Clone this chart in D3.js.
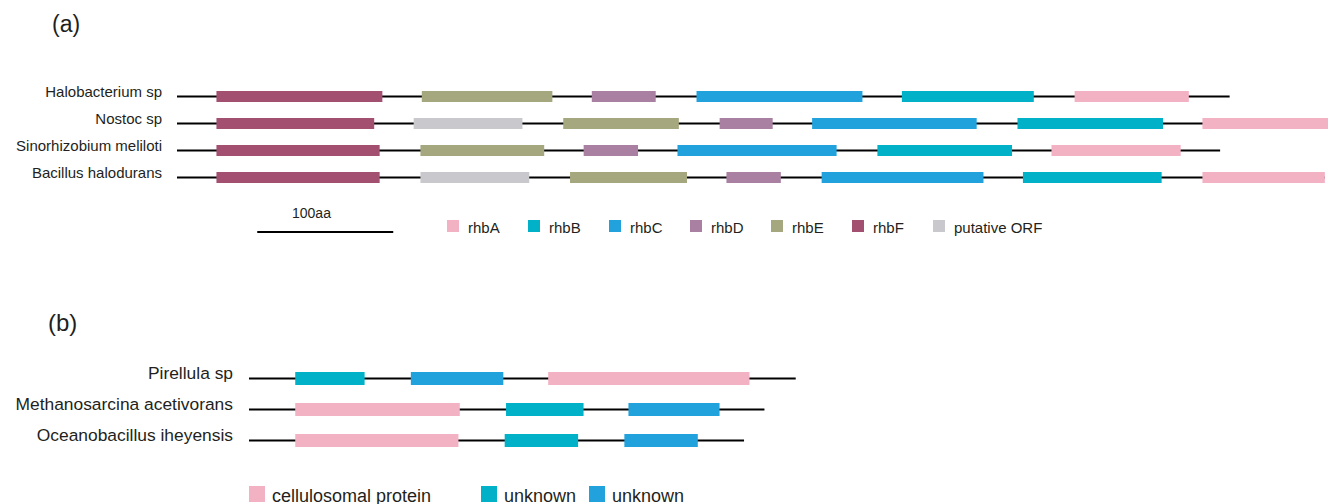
<!DOCTYPE html>
<html>
<head>
<meta charset="utf-8">
<script src="https://cdn.jsdelivr.net/npm/d3@7"></script>
<style>
  html, body { margin: 0; padding: 0; background: #fff; }
  svg { display: block; }
  text { font-family: "Liberation Sans", Arial, sans-serif; fill: #231f20; }
</style>
</head>
<body>
<svg id="chart" width="1328" height="504"></svg>
<script>
// ---------- Data (positions in amino acids, aa) ----------
// Panel (a)
const speciesA = ["Halobacterium sp", "Nostoc sp", "Sinorhizobium meliloti", "Bacillus halodurans"];
const lengthA = [774, 860, 767, 844];
const genesHalobacterium = [
  {gene: "rhbF", start: 29, end: 151},
  {gene: "rhbE", start: 180, end: 276},
  {gene: "rhbD", start: 305, end: 352},
  {gene: "rhbC", start: 382, end: 504},
  {gene: "rhbB", start: 533, end: 630},
  {gene: "rhbA", start: 660, end: 744}
];
const genesNostoc = [
  {gene: "rhbF", start: 29, end: 145},
  {gene: "ORF", start: 174, end: 254},
  {gene: "rhbE", start: 284, end: 369},
  {gene: "rhbD", start: 399, end: 438},
  {gene: "rhbC", start: 467, end: 588},
  {gene: "rhbB", start: 618, end: 725},
  {gene: "rhbA", start: 754, end: 860}
];
const genesSinorhizobium = [
  {gene: "rhbF", start: 29, end: 149},
  {gene: "rhbE", start: 179, end: 270},
  {gene: "rhbD", start: 299, end: 339},
  {gene: "rhbC", start: 368, end: 485},
  {gene: "rhbB", start: 515, end: 614},
  {gene: "rhbA", start: 643, end: 738}
];
const genesBacillus = [
  {gene: "rhbF", start: 29, end: 149},
  {gene: "ORF", start: 179, end: 259},
  {gene: "rhbE", start: 289, end: 375},
  {gene: "rhbD", start: 404, end: 444},
  {gene: "rhbC", start: 474, end: 593},
  {gene: "rhbB", start: 622, end: 724},
  {gene: "rhbA", start: 754, end: 844}
];
const genesA = [genesHalobacterium, genesNostoc, genesSinorhizobium, genesBacillus];
const legendKeysA = ["rhbA", "rhbB", "rhbC", "rhbD", "rhbE", "rhbF", "ORF"];
const legendLabelsA = ["rhbA", "rhbB", "rhbC", "rhbD", "rhbE", "rhbF", "putative ORF"];
const scaleBarStart = 59;
const scaleBarLength = 100;
const scaleBarLabel = "100aa";

// Panel (b)
const speciesB = ["Pirellula sp", "Methanosarcina acetivorans", "Oceanobacillus iheyensis"];
const lengthB = [402, 379, 364];
const genesPirellula = [
  {gene: "unk1", start: 34, end: 85},
  {gene: "unk2", start: 119, end: 187},
  {gene: "cell", start: 220, end: 368}
];
const genesMethanosarcina = [
  {gene: "cell", start: 34, end: 155},
  {gene: "unk1", start: 189, end: 246},
  {gene: "unk2", start: 279, end: 346}
];
const genesOceanobacillus = [
  {gene: "cell", start: 34, end: 154},
  {gene: "unk1", start: 188, end: 242},
  {gene: "unk2", start: 276, end: 330}
];
const genesB = [genesPirellula, genesMethanosarcina, genesOceanobacillus];
const legendKeysB = ["cell", "unk1", "unk2"];
const legendLabelsB = ["cellulosomal protein", "unknown", "unknown"];

// ---------- Styles ----------
const colors = {
  rhbA: "#f3b2c4", rhbB: "#00b1c8", rhbC: "#22a2dc", rhbD: "#aa80a2",
  rhbE: "#a5a77e", rhbF: "#a34f70", ORF: "#c9c8cd",
  cell: "#f3b2c4", unk1: "#00b1c8", unk2: "#22a2dc"
};

const svg = d3.select("#chart");

// ---------- Panel (a) ----------
const xA = d3.scaleLinear().domain([0, 1000]).range([177, 1537]);
const yA = d3.scalePoint().domain(speciesA).range([96.5, 177.5]);
const color = d3.scaleOrdinal().domain(Object.keys(colors)).range(Object.values(colors));

svg.append("text").attr("x", 52).attr("y", 32).style("font-size", "23px").text("(a)");

const gA = svg.append("g");
speciesA.forEach((sp, i) => {
  const cy = yA(sp);
  const row = gA.append("g");
  row.append("text").attr("x", 162).attr("y", cy).attr("text-anchor", "end")
    .style("font-size", "15px").text(sp);
  row.append("line").attr("x1", xA(0)).attr("x2", xA(lengthA[i]))
    .attr("y1", cy).attr("y2", cy).attr("stroke", "#000").attr("stroke-width", 2);
  row.selectAll("rect").data(genesA[i]).join("rect")
    .attr("x", d => xA(d.start)).attr("width", d => xA(d.end) - xA(d.start))
    .attr("y", cy - 5.5).attr("height", 11)
    .attr("fill", d => color(d.gene));
});

// scale bar
svg.append("line").attr("x1", xA(scaleBarStart)).attr("x2", xA(scaleBarStart + scaleBarLength))
  .attr("y1", 232).attr("y2", 232).attr("stroke", "#000").attr("stroke-width", 2);
svg.append("text").attr("x", 292).attr("y", 218).style("font-size", "14px").text(scaleBarLabel);

// legend (a)
const legA = svg.append("g");
legendKeysA.forEach((k, i) => {
  const lx = 447 + i * 81;
  legA.append("rect").attr("x", lx).attr("y", 220).attr("width", 12).attr("height", 12).attr("fill", color(k));
  legA.append("text").attr("x", lx + 21).attr("y", 232.5).style("font-size", "15px").text(legendLabelsA[i]);
});

// ---------- Panel (b) ----------
const xB = d3.scaleLinear().domain([0, 1000]).range([249, 1609]);
const yB = d3.scalePoint().domain(speciesB).range([378.5, 440.5]);

svg.append("text").attr("x", 48).attr("y", 331).style("font-size", "24px").text("(b)");

const gB = svg.append("g");
speciesB.forEach((sp, i) => {
  const cy = yB(sp);
  const row = gB.append("g");
  row.append("text").attr("x", 233).attr("y", cy).attr("text-anchor", "end")
    .style("font-size", "17.4px").text(sp);
  row.append("line").attr("x1", xB(0)).attr("x2", xB(lengthB[i]))
    .attr("y1", cy).attr("y2", cy).attr("stroke", "#000").attr("stroke-width", 2);
  row.selectAll("rect").data(genesB[i]).join("rect")
    .attr("x", d => xB(d.start)).attr("width", d => xB(d.end) - xB(d.start))
    .attr("y", cy - 6.5).attr("height", 13)
    .attr("fill", d => color(d.gene));
});

// legend (b)
const legBX = [249, 481, 589];
const legB = svg.append("g");
legendKeysB.forEach((k, i) => {
  legB.append("rect").attr("x", legBX[i]).attr("y", 486).attr("width", 16).attr("height", 16).attr("fill", color(k));
  legB.append("text").attr("x", legBX[i] + 23).attr("y", 502).style("font-size", "18px").text(legendLabelsB[i]);
});
</script>
</body>
</html>
